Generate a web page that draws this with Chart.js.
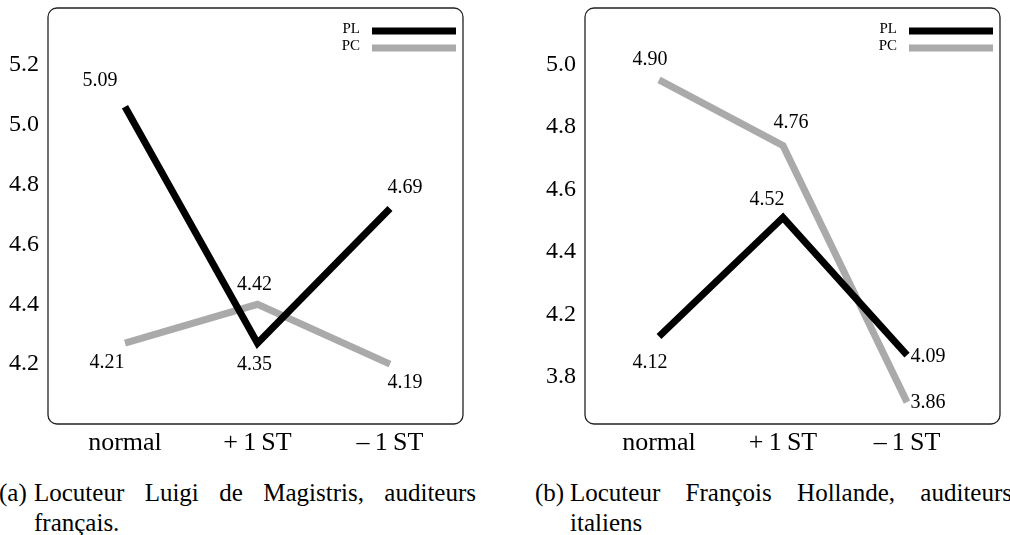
<!DOCTYPE html>
<html>
<head>
<meta charset="utf-8">
<script src="https://cdn.jsdelivr.net/npm/chart.js@4.4.0/dist/chart.umd.min.js"></script>
<style>
    html, body { margin: 0; padding: 0; background: #fff; width: 1010px; height: 535px; overflow: hidden; }
    body { position: relative; font-family: "Liberation Serif", serif; color: #000; }
    .panel { position: absolute; top: 0; width: 520px; height: 460px; }
    .caption { position: absolute; top: 478px; width: 480px; font-size: 25px; line-height: 30px; }
    .caption .tag { position: absolute; left: -1px; top: 0; }
    .caption .line { position: absolute; left: 34px; width: 442px; text-align: justify; text-align-last: justify; }
    .caption .line2 { position: absolute; left: 34px; top: 30px; }
</style>
</head>
<body>
<div class="panel" style="left:0"><canvas id="chartA" width="520" height="460"></canvas></div>
<div class="panel" style="left:537px"><canvas id="chartB" width="520" height="460"></canvas></div>

<div class="caption" style="left:0">
    <span class="tag">(a)</span>
    <div class="line">Locuteur Luigi de Magistris, auditeurs</div>
    <div class="line2">français.</div>
</div>
<div class="caption" style="left:536px">
    <span class="tag">(b)</span>
    <div class="line">Locuteur François Hollande, auditeurs</div>
    <div class="line2">italiens</div>
</div>

<script>
const categories = ['normal', '+\u20091\u2009ST', '\u2013\u20091\u2009ST'];
const seriesNames = ['PL', 'PC'];
const seriesColors = ['#000000', '#aaaaaa'];

// (a) Luigi de Magistris
const plA = [5.06, 4.27, 4.72];
const pcA = [4.27, 4.40, 4.20];
const plLabelsA = ['5.09', '4.35', '4.69'];
const pcLabelsA = ['4.21', '4.42', '4.19'];
const tickValuesA = [4.2, 4.4, 4.6, 4.8, 5.0, 5.2];
const tickLabelsA = ['4.2', '4.4', '4.6', '4.8', '5.0', '5.2'];

// (b) François Hollande
const plB = [4.13, 4.51, 4.07];
const pcB = [4.95, 4.74, 3.92];
const plLabelsB = ['4.12', '4.52', '4.09'];
const pcLabelsB = ['4.90', '4.76', '3.86'];
const tickValuesB = [4.0, 4.2, 4.4, 4.6, 4.8, 5.0];
const tickLabelsB = ['3.8', '4.2', '4.4', '4.6', '4.8', '5.0'];

const serif = '"Liberation Serif", "Times New Roman", serif';

// rounded frame around the plot area
const framePlugin = {
    id: 'frame',
    afterDraw(chart) {
        const { ctx, chartArea: a } = chart;
        ctx.save();
        ctx.strokeStyle = '#222';
        ctx.lineWidth = 1.3;
        ctx.beginPath();
        ctx.roundRect(a.left, a.top, a.right - a.left, a.bottom - a.top, 9);
        ctx.stroke();
        ctx.restore();
    }
};

// legend in the top right corner: name, then a thick line sample
const legendPlugin = {
    id: 'lineLegend',
    afterDraw(chart) {
        const { ctx, chartArea: a } = chart;
        ctx.save();
        ctx.font = '15px ' + serif;
        ctx.textAlign = 'right';
        ctx.textBaseline = 'middle';
        chart.data.datasets.forEach((ds, i) => {
            const y = a.top + 23 + i * 17;
            const x1 = a.right - 7;
            const x0 = x1 - 84;
            ctx.strokeStyle = ds.borderColor;
            ctx.lineWidth = 7;
            ctx.beginPath();
            ctx.moveTo(x0, y);
            ctx.lineTo(x1, y);
            ctx.stroke();
            ctx.fillStyle = '#000';
            ctx.fillText(ds.label, x0 - 12, y - 2);
        });
        ctx.restore();
    }
};

// value labels next to each point
const valueLabelPlugin = {
    id: 'valueLabels',
    afterDatasetsDraw(chart) {
        const { ctx } = chart;
        ctx.save();
        ctx.font = '20px ' + serif;
        ctx.fillStyle = '#000';
        ctx.textAlign = 'center';
        ctx.textBaseline = 'middle';
        chart.data.datasets.forEach((ds, i) => {
            const meta = chart.getDatasetMeta(i);
            meta.data.forEach((pt, j) => {
                const off = ds.labelOffsets[j];
                ctx.fillText(ds.valueLabels[j], pt.x + off[0], pt.y + off[1]);
            });
        });
        ctx.restore();
    }
};

function makeChart(canvasId, series, labels, offsets, xRange, yRange, tickValues, tickLabels) {
    const datasets = series.map((values, i) => ({
        label: seriesNames[i],
        data: values.map((v, j) => ({ x: j, y: v })),
        borderColor: seriesColors[i],
        borderWidth: 7,
        pointRadius: 0,
        tension: 0,
        valueLabels: labels[i],
        labelOffsets: offsets[i]
    }));

    return new Chart(document.getElementById(canvasId), {
        type: 'line',
        data: { datasets: datasets },
        options: {
            responsive: false,
            animation: false,
            layout: { padding: { top: 8, right: 57, left: 0, bottom: 0 } },
            plugins: {
                legend: { display: false },
                tooltip: { enabled: false }
            },
            scales: {
                x: {
                    type: 'linear',
                    min: xRange[0],
                    max: xRange[1],
                    grid: { display: false },
                    border: { display: false },
                    afterBuildTicks: s => { s.ticks = categories.map((c, j) => ({ value: j })); },
                    afterFit: s => { s.height = 36; s.paddingLeft = 0; s.paddingRight = 0; },
                    ticks: {
                        autoSkip: false,
                        maxRotation: 0,
                        padding: -4,
                        color: '#000',
                        font: { family: serif, size: 26 },
                        callback: v => categories[v]
                    }
                },
                y: {
                    min: yRange[0],
                    max: yRange[1],
                    grid: { display: false },
                    border: { display: false },
                    afterBuildTicks: s => { s.ticks = tickValues.map(v => ({ value: v })); },
                    afterFit: s => { s.width = 48; s.paddingTop = 0; s.paddingBottom = 0; },
                    ticks: {
                        autoSkip: false,
                        padding: 1,
                        color: '#000',
                        font: { family: serif, size: 24 },
                        callback: (v, idx) => tickLabels[idx]
                    }
                }
            }
        },
        plugins: [framePlugin, legendPlugin, valueLabelPlugin]
    });
}

document.addEventListener('DOMContentLoaded', function() {
    makeChart('chartA',
        [plA, pcA],
        [plLabelsA, pcLabelsA],
        [[[-25, -26], [-3, 22], [15, -21]], [[-18, 20], [-3, -20], [15, 19]]],
        [-0.581, 2.551],
        [4.0, 5.39],
        tickValuesA, tickLabelsA);

    makeChart('chartB',
        [plB, pcB],
        [plLabelsB, pcLabelsB],
        [[[-9, 26], [-16, -18], [21, 2]], [[-9, -20], [8, -23], [21, 1]]],
        [-0.597, 2.750],
        [3.85, 5.18],
        tickValuesB, tickLabelsB);
});
</script>
</body>
</html>
